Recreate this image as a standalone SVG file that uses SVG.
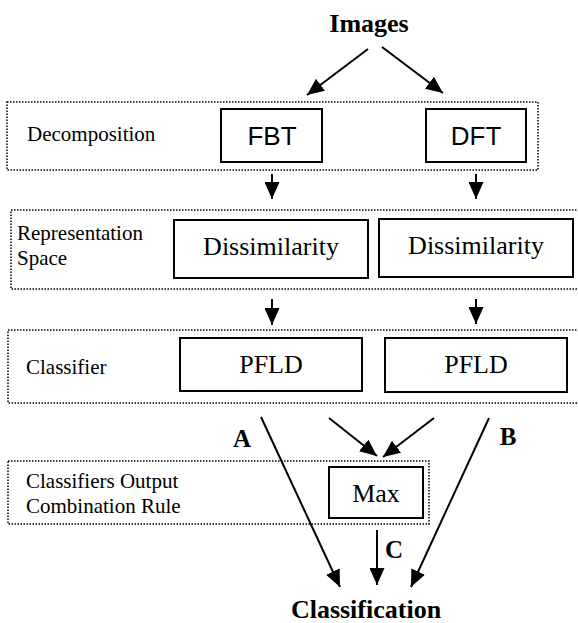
<svg xmlns="http://www.w3.org/2000/svg" width="578" height="623" viewBox="0 0 578 623">
<style>
.grp{fill:none;stroke:#000;stroke-width:1.5;stroke-dasharray:1.5 1.5}
.box{fill:#fff;stroke:#000;stroke-width:2}
.lbl{font-family:"Liberation Serif","Times New Roman",serif;font-size:21px;fill:#000}
.ser{font-family:"Liberation Serif","Times New Roman",serif;font-size:26px;fill:#000;text-anchor:middle}
.san{font-family:"Liberation Sans",Arial,sans-serif;font-size:26px;fill:#000;text-anchor:middle}
.bld{font-family:"Liberation Serif","Times New Roman",serif;font-size:26px;font-weight:bold;fill:#000;text-anchor:middle}
.edge{stroke:#000;stroke-width:2;fill:none;marker-end:url(#ah)}
</style>
<defs>
<marker id="ah" markerUnits="userSpaceOnUse" markerWidth="17" markerHeight="15" refX="17" refY="7.5" orient="auto">
<path d="M0,0 L17,7.5 L0,15 z" fill="#000"/>
</marker>
</defs>
<rect width="578" height="623" fill="#fff"/>
<g id="stage-decomposition">
<rect class="grp" x="7" y="102" width="531" height="68"/>
<text class="lbl" x="27" y="141">Decomposition</text>
</g>
<g id="stage-representation">
<rect class="grp" x="11" y="210" width="572" height="79"/>
<text class="lbl" x="17" y="240">Representation</text>
<text class="lbl" x="17" y="265">Space</text>
</g>
<g id="stage-classifier">
<rect class="grp" x="8" y="330" width="575" height="73"/>
<text class="lbl" x="26" y="374">Classifier</text>
</g>
<g id="stage-combination">
<rect class="grp" x="8" y="461" width="421" height="63"/>
<text class="lbl" x="26" y="488">Classifiers Output</text>
<text class="lbl" x="26" y="513">Combination Rule</text>
</g>
<g id="images"><text class="bld" x="369" y="32">Images</text></g>
<g id="fbt"><rect class="box" x="221" y="109" width="101" height="53"/><text class="san" x="272" y="145">FBT</text></g>
<g id="dft"><rect class="box" x="426" y="109" width="100" height="53"/><text class="san" x="476" y="145">DFT</text></g>
<g id="dis1"><rect class="box" x="174" y="220" width="194" height="58"/><text class="ser" x="271" y="255">Dissimilarity</text></g>
<g id="dis2"><rect class="box" x="379" y="219" width="194" height="58"/><text class="ser" x="476" y="254">Dissimilarity</text></g>
<g id="pfld1"><rect class="box" x="180" y="338" width="182" height="53"/><text class="ser" x="271" y="373">PFLD</text></g>
<g id="pfld2"><rect class="box" x="385" y="338" width="182" height="54"/><text class="ser" x="476" y="373">PFLD</text></g>
<g id="max"><rect class="box" x="329" y="467" width="94" height="51"/><text class="ser" x="376" y="502">Max</text></g>
<g id="classification"><text class="bld" x="366" y="618">Classification</text></g>
<g id="connectors">
<line class="edge" x1="368" y1="49" x2="307" y2="95"/>
<line class="edge" x1="382" y1="47" x2="443" y2="93"/>
<line class="edge" x1="272" y1="174" x2="272" y2="199"/>
<line class="edge" x1="476" y1="174" x2="476" y2="199"/>
<line class="edge" x1="272" y1="299" x2="272" y2="325"/>
<line class="edge" x1="476" y1="299" x2="476" y2="324"/>
<line class="edge" x1="329" y1="418" x2="377" y2="456"/>
<line class="edge" x1="434" y1="418" x2="383" y2="457"/>
<line class="edge" x1="261" y1="417" x2="340" y2="587"/>
<line class="edge" x1="489" y1="418" x2="411" y2="587"/>
<line class="edge" x1="377" y1="530" x2="377" y2="585"/>
<text class="bld" x="242" y="447" style="font-size:25px">A</text>
<text class="bld" x="508" y="445" style="font-size:25px">B</text>
<text class="bld" x="394" y="558" style="font-size:25px">C</text>
</g>
</svg>
